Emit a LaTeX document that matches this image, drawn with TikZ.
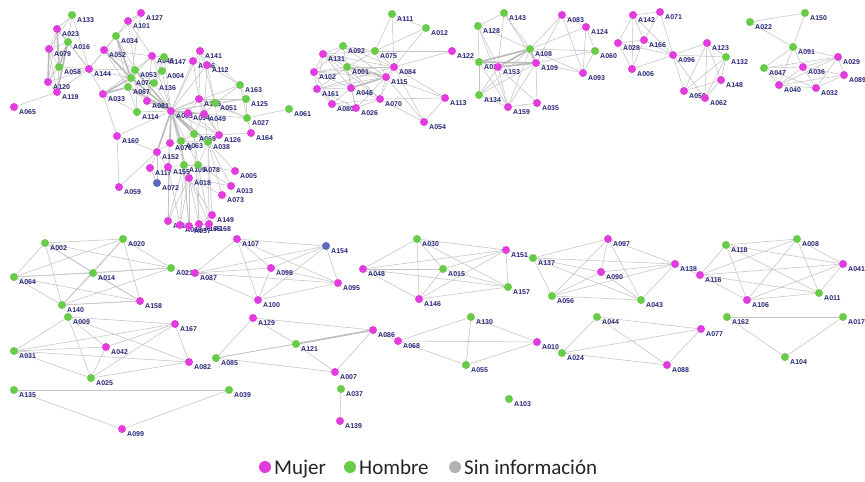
\documentclass[tikz,border=0pt]{standalone}
\usepackage{fontspec}
\setmainfont{Carlito}
\newfontfamily\lblfont{Liberation Sans}
\usetikzlibrary{backgrounds}
\definecolor{mag}{RGB}{226,60,222}
\definecolor{grn}{RGB}{104,204,72}
\definecolor{blu}{RGB}{92,104,190}
\definecolor{nav}{RGB}{40,40,120}
\definecolor{edg}{RGB}{196,196,196}
\definecolor{tedg}{RGB}{185,185,185}
\definecolor{gry}{RGB}{178,178,182}
\tikzset{
  dot/.style={circle,minimum size=8pt,inner sep=0pt},
  lbl/.style={anchor=west,inner sep=0pt,font=\lblfont\bfseries\fontsize{7}{7}\selectfont,text=nav},
  e/.style={draw=edg,line width=0.55pt},
  te/.style={draw=tedg,line width=1.6pt},
  legdot/.style={circle,minimum size=12pt,inner sep=0pt},
  legtxt/.style={anchor=base west,inner sep=0pt,font=\fontsize{21}{21}\selectfont,text=black!85}
}
\newcommand\ND[5]{\node[dot,fill=#5] (#1) at (#3,#4) {}; \node[lbl] at (#3+5,#4+5.5) {#2};}
\begin{document}
\begin{tikzpicture}[x=1pt,y=-1pt]
\useasboundingbox (0,0) rectangle (865,482);
% ---- top-left group
\ND{A133}{A133}{72}{15}{grn}
\ND{A023}{A023}{57}{29}{mag}
\ND{A016}{A016}{68}{42}{grn}
\ND{A079}{A079}{49}{49}{mag}
\ND{A058}{A058}{59}{67}{grn}
\ND{A144}{A144}{89}{69}{mag}
\ND{A120}{A120}{48}{82}{mag}
\ND{A119}{A119}{57}{92}{mag}
\ND{A065}{A065}{14}{107}{mag}
% ---- big cluster
\ND{A127}{A127}{141}{13}{mag}
\ND{A101}{A101}{128}{21}{mag}
\ND{A034}{A034}{116}{36}{grn}
\ND{A052}{A052}{104}{50}{mag}
\ND{A033}{A033}{103}{94}{mag}
\ND{A045}{A045}{152}{56}{mag}
\ND{A147}{A147}{164}{57}{grn}
\ND{A141}{A141}{200}{51}{mag}
\ND{A156}{A156}{193}{61}{mag}
\ND{A112}{A112}{207}{65}{mag}
\ND{A053}{A053}{135}{70}{grn}
\ND{A074}{A074}{131}{78}{grn}
\ND{A067}{A067}{128}{87}{grn}
\ND{A004}{A004}{162}{71}{grn}
\ND{A136}{A136}{154}{83}{grn}
\ND{A081}{A081}{147}{101}{mag}
\ND{A114}{A114}{137}{112}{grn}
\ND{A003}{A003}{171}{111}{mag}
\ND{A145}{A145}{199}{99}{mag}
\ND{A051}{A051}{215}{103}{grn}
\ND{A094}{A094}{188}{113}{mag}
\ND{A049}{A049}{204}{114}{mag}
\ND{A163}{A163}{240}{85}{grn}
\ND{A125}{A125}{246}{99}{grn}
\ND{A027}{A027}{247}{118}{grn}
\ND{A164}{A164}{251}{133}{mag}
\ND{A061}{A061}{289}{109}{grn}
\ND{A160}{A160}{117}{136}{mag}
\ND{A069}{A069}{194}{134}{grn}
\ND{A126}{A126}{219}{135}{mag}
\ND{A076}{A076}{170}{143}{mag}
\ND{A063}{A063}{181}{141}{grn}
\ND{A038}{A038}{208}{142}{grn}
\ND{A152}{A152}{157}{152}{mag}
\ND{A117}{A117}{150}{168}{mag}
\ND{A155}{A155}{168}{167}{mag}
\ND{A105}{A105}{184}{165}{grn}
\ND{A078}{A078}{198}{165}{grn}
\ND{A005}{A005}{235}{171}{mag}
\ND{A072}{A072}{157}{183}{blu}
\ND{A018}{A018}{189}{178}{mag}
\ND{A013}{A013}{231}{186}{mag}
\ND{A073}{A073}{222}{195}{mag}
\ND{A059}{A059}{119}{187}{mag}
\ND{A149}{A149}{212}{215}{mag}
\ND{A110}{A110}{168}{221}{mag}
\ND{A066}{A066}{180}{225}{mag}
\ND{A057}{A057}{189}{226}{mag}
\ND{A165}{A165}{199}{224}{mag}
\ND{A168}{A168}{209}{224}{mag}
% ---- cluster 3
\ND{A111}{A111}{392}{14}{grn}
\ND{A012}{A012}{426}{28}{grn}
\ND{A092}{A092}{343}{46}{grn}
\ND{A075}{A075}{375}{51}{grn}
\ND{A122}{A122}{452}{51}{mag}
\ND{A131}{A131}{323}{54}{mag}
\ND{A001}{A001}{347}{67}{grn}
\ND{A084}{A084}{394}{67}{mag}
\ND{A102}{A102}{314}{72}{mag}
\ND{A115}{A115}{386}{77}{mag}
\ND{A161}{A161}{317}{89}{mag}
\ND{A046}{A046}{351}{88}{mag}
\ND{A080}{A080}{332}{104}{mag}
\ND{A026}{A026}{356}{108}{mag}
\ND{A070}{A070}{380}{99}{mag}
\ND{A113}{A113}{445}{98}{mag}
\ND{A054}{A054}{424}{122}{mag}
% ---- cluster 4
\ND{A143}{A143}{504}{13}{grn}
\ND{A128}{A128}{478}{26}{grn}
\ND{A083}{A083}{562}{15}{mag}
\ND{A124}{A124}{586}{27}{mag}
\ND{A108}{A108}{530}{49}{grn}
\ND{A060}{A060}{595}{51}{grn}
\ND{A019}{A019}{479}{62}{grn}
\ND{A153}{A153}{498}{67}{mag}
\ND{A109}{A109}{536}{63}{mag}
\ND{A093}{A093}{583}{73}{mag}
\ND{A134}{A134}{479}{95}{grn}
\ND{A159}{A159}{508}{107}{mag}
\ND{A035}{A035}{537}{103}{mag}
% ---- cluster 5
\ND{A142}{A142}{633}{15}{mag}
\ND{A071}{A071}{660}{12}{mag}
\ND{A028}{A028}{618}{43}{mag}
\ND{A166}{A166}{644}{40}{mag}
\ND{A096}{A096}{673}{55}{mag}
\ND{A006}{A006}{632}{69}{mag}
\ND{A123}{A123}{707}{43}{mag}
\ND{A132}{A132}{726}{57}{grn}
\ND{A148}{A148}{721}{80}{mag}
\ND{A050}{A050}{684}{91}{mag}
\ND{A062}{A062}{705}{98}{mag}
% ---- cluster 6
\ND{A022}{A022}{750}{22}{grn}
\ND{A150}{A150}{805}{13}{grn}
\ND{A091}{A091}{793}{47}{grn}
\ND{A029}{A029}{838}{57}{mag}
\ND{A047}{A047}{764}{68}{grn}
\ND{A036}{A036}{803}{67}{mag}
\ND{A089}{A089}{844}{75}{mag}
\ND{A040}{A040}{779}{85}{mag}
\ND{A032}{A032}{816}{88}{mag}
% ---- lower clusters
\ND{A002}{A002}{45}{243}{grn}
\ND{A020}{A020}{123}{239}{grn}
\ND{A064}{A064}{14}{277}{grn}
\ND{A014}{A014}{93}{273}{grn}
\ND{A021}{A021}{171}{268}{grn}
\ND{A158}{A158}{140}{301}{mag}
\ND{A140}{A140}{62}{305}{grn}
\ND{A107}{A107}{237}{239}{mag}
\ND{A154}{A154}{326}{246}{blu}
\ND{A098}{A098}{271}{268}{mag}
\ND{A087}{A087}{195}{273}{mag}
\ND{A095}{A095}{338}{283}{mag}
\ND{A100}{A100}{258}{300}{mag}
\ND{A030}{A030}{417}{239}{grn}
\ND{A151}{A151}{506}{250}{mag}
\ND{A048}{A048}{363}{269}{mag}
\ND{A015}{A015}{443}{269}{grn}
\ND{A157}{A157}{508}{287}{grn}
\ND{A146}{A146}{419}{299}{mag}
\ND{A097}{A097}{608}{239}{mag}
\ND{A137}{A137}{533}{258}{grn}
\ND{A090}{A090}{601}{272}{mag}
\ND{A138}{A138}{675}{264}{mag}
\ND{A056}{A056}{552}{296}{grn}
\ND{A043}{A043}{641}{300}{grn}
\ND{A118}{A118}{726}{245}{grn}
\ND{A008}{A008}{797}{239}{grn}
\ND{A116}{A116}{700}{275}{mag}
\ND{A041}{A041}{843}{264}{mag}
\ND{A106}{A106}{747}{300}{mag}
\ND{A011}{A011}{819}{293}{grn}
\ND{A009}{A009}{68}{317}{grn}
\ND{A167}{A167}{175}{324}{mag}
\ND{A031}{A031}{14}{351}{grn}
\ND{A042}{A042}{106}{347}{mag}
\ND{A082}{A082}{189}{362}{mag}
\ND{A025}{A025}{91}{378}{grn}
\ND{A135}{A135}{14}{390}{grn}
\ND{A039}{A039}{229}{390}{grn}
\ND{A099}{A099}{122}{429}{mag}
\ND{A129}{A129}{253}{318}{mag}
\ND{A085}{A085}{216}{358}{grn}
\ND{A121}{A121}{296}{344}{grn}
\ND{A086}{A086}{373}{330}{mag}
\ND{A007}{A007}{335}{372}{mag}
\ND{A037}{A037}{341}{389}{grn}
\ND{A139}{A139}{340}{421}{mag}
\ND{A068}{A068}{398}{341}{mag}
\ND{A130}{A130}{471}{317}{grn}
\ND{A055}{A055}{466}{365}{grn}
\ND{A010}{A010}{537}{342}{mag}
\ND{A103}{A103}{509}{399}{grn}
\ND{A044}{A044}{597}{317}{grn}
\ND{A024}{A024}{562}{353}{grn}
\ND{A077}{A077}{701}{329}{mag}
\ND{A088}{A088}{667}{365}{mag}
\ND{A162}{A162}{727}{317}{grn}
\ND{A017}{A017}{843}{317}{grn}
\ND{A104}{A104}{785}{357}{grn}
% ---- legend
\node[legdot,fill=mag] (lm) at (265,467) {};
\node[legtxt] (tm) at (274,474) {Mujer};
\node[legdot,fill=grn] (lh) at (350,467) {};
\node[legtxt] (th) at (359,474) {Hombre};
\node[legdot,fill=gry] (ls) at (455,467) {};
\node[legtxt] (ts) at (464,474) {Sin información};
% ---- edges
\begin{pgfonlayer}{background}
\fill[white] (0,0) rectangle (865,482);
\foreach \a/\b in {A079/A120,A016/A058,A023/A058,A052/A074,A033/A074,A033/A067,A081/A003,A053/A003,A074/A003,A067/A003,A034/A074,A003/A069,A003/A063,A003/A038,A003/A076,A003/A152,A003/A094,A003/A049,A019/A108,A019/A109,A153/A108,A153/A109,A108/A109,A121/A086,A001/A115,A046/A115,A016/A119}
  \draw[te] (\a) -- (\b);
\foreach \a/\b in {
A133/A023,A133/A016,A133/A144,A133/A079,A023/A016,A023/A079,A023/A120,A023/A144,A016/A079,A016/A144,A016/A120,A079/A058,A079/A119,A058/A144,A058/A120,A058/A119,A120/A119,A144/A119,A144/A120,A065/A119,A144/A034,A144/A052,A144/A053,A144/A033,A144/A074,
A127/A101,A127/A034,A101/A034,A101/A053,A101/A045,A127/A074,A034/A052,A034/A053,A034/A067,A052/A053,A052/A067,A052/A045,A045/A147,A045/A053,A045/A074,A045/A004,A045/A081,A147/A004,A147/A136,A053/A074,A053/A067,A074/A067,A053/A136,A074/A081,A067/A081,A067/A114,A053/A114,A033/A053,A033/A114,A033/A160,A004/A136,A136/A081,A114/A003,
A003/A045,A003/A147,A003/A004,A003/A136,A003/A141,A003/A156,A003/A112,A003/A145,A003/A051,A003/A126,A003/A155,A003/A105,A003/A078,A003/A018,A003/A163,A003/A027,A003/A160,A003/A125,
A141/A112,A141/A145,A141/A051,A156/A112,A156/A145,A112/A051,A112/A049,A145/A051,A145/A094,A145/A049,A145/A027,A145/A125,A051/A163,A051/A125,A051/A027,A051/A049,A094/A049,A094/A126,A049/A126,A049/A038,A163/A125,A163/A027,A125/A027,A027/A061,A027/A164,A126/A164,A126/A038,A069/A038,A069/A063,A069/A126,A063/A038,A076/A063,A076/A152,A152/A117,A152/A155,A152/A160,A152/A059,A160/A059,A117/A072,A152/A072,A155/A018,A155/A105,A105/A078,A078/A005,A078/A013,A018/A013,A018/A073,A018/A149,A005/A038,A013/A038,A073/A038,A069/A078,A063/A105,A038/A078,A112/A163,A051/A126,A145/A126,A049/A069,A094/A069,A141/A163,
A018/A110,A018/A066,A018/A057,A018/A165,A018/A168,A105/A110,A105/A066,A105/A057,A078/A165,A078/A168,A155/A110,A155/A066,A063/A057,A069/A165,A038/A168,A149/A038,A076/A110,A110/A066,A066/A057,A057/A165,A165/A168,A149/A168,A149/A165,
A111/A012,A111/A075,A111/A084,A012/A084,A012/A075,A092/A075,A092/A131,A092/A001,A092/A102,A092/A084,A092/A115,A075/A084,A075/A115,A075/A122,A075/A131,A075/A001,A084/A122,A084/A115,A084/A113,A084/A054,A084/A070,A115/A113,A115/A054,A115/A070,A070/A113,A070/A054,A113/A054,
A131/A102,A131/A001,A131/A161,A131/A046,A131/A084,A131/A115,A102/A001,A102/A161,A102/A080,A102/A046,A102/A084,A161/A080,A161/A046,A161/A026,A161/A001,A080/A026,A080/A046,A046/A026,A046/A001,A046/A070,A001/A084,A001/A026,A026/A070,A026/A115,A080/A070,A102/A115,A161/A115,A001/A070,A131/A070,A161/A084,
A143/A128,A143/A108,A143/A153,A143/A109,A128/A019,A128/A108,A128/A153,A128/A159,A019/A153,A019/A134,A019/A159,A122/A019,A153/A159,A153/A035,A153/A134,A108/A134,A108/A159,A108/A083,A108/A124,A108/A060,A108/A093,A109/A159,A109/A035,A109/A093,A109/A083,A109/A134,A083/A124,A083/A093,A124/A060,A124/A093,A134/A159,A159/A035,A060/A093,A060/A109,
A142/A071,A142/A028,A142/A166,A142/A006,A142/A096,A071/A166,A071/A096,A028/A166,A028/A006,A028/A096,A166/A096,A166/A006,A006/A096,A096/A123,A096/A132,A096/A050,A096/A062,A123/A132,A123/A148,A123/A050,A123/A062,A132/A148,A132/A050,A132/A062,A148/A050,A148/A062,A050/A062,
A022/A150,A022/A091,A150/A091,A091/A047,A091/A036,A091/A029,A091/A040,A047/A036,A047/A029,A047/A040,A047/A032,A036/A029,A036/A089,A036/A040,A036/A032,A029/A089,A029/A040,A029/A032,A089/A040,A089/A032,A040/A032,
A002/A020,A002/A064,A002/A014,A002/A140,A002/A021,A002/A158,A020/A064,A020/A014,A020/A140,A020/A021,A020/A158,A064/A014,A064/A140,A064/A021,A064/A158,A014/A021,A014/A140,A014/A158,A140/A021,A140/A158,A021/A087,
A087/A107,A087/A098,A087/A154,A087/A095,A087/A100,A107/A154,A107/A098,A107/A095,A107/A100,A098/A154,A098/A095,A098/A100,A154/A095,A154/A100,A100/A095,
A030/A048,A030/A015,A030/A146,A030/A151,A030/A157,A048/A015,A048/A151,A048/A157,A048/A146,A015/A146,A015/A151,A015/A157,A146/A157,A146/A151,A151/A157,A151/A137,
A137/A097,A137/A090,A137/A138,A137/A056,A137/A043,A097/A090,A097/A138,A097/A056,A097/A043,A090/A138,A090/A056,A090/A043,A138/A056,A138/A043,A056/A043,A138/A116,
A118/A008,A118/A116,A118/A106,A118/A041,A118/A011,A008/A116,A008/A106,A008/A041,A008/A011,A116/A041,A116/A106,A116/A011,A106/A041,A106/A011,A041/A011,
A009/A031,A009/A042,A009/A025,A009/A167,A009/A082,A031/A042,A031/A167,A031/A082,A031/A025,A042/A167,A042/A025,A167/A082,A167/A025,A025/A082,A140/A158,
A085/A129,A085/A086,A085/A121,A085/A007,A129/A121,A129/A086,A121/A007,A086/A007,A086/A068,
A068/A130,A068/A055,A068/A010,A130/A055,A130/A010,A055/A010,A010/A024,
A024/A044,A024/A077,A024/A088,A044/A077,A044/A088,A077/A088,
A162/A017,A162/A104,A017/A104,A135/A039,A135/A099,A039/A099,A037/A139}
  \draw[e] (\a) -- (\b);
\end{pgfonlayer}
\end{tikzpicture}
\end{document}
